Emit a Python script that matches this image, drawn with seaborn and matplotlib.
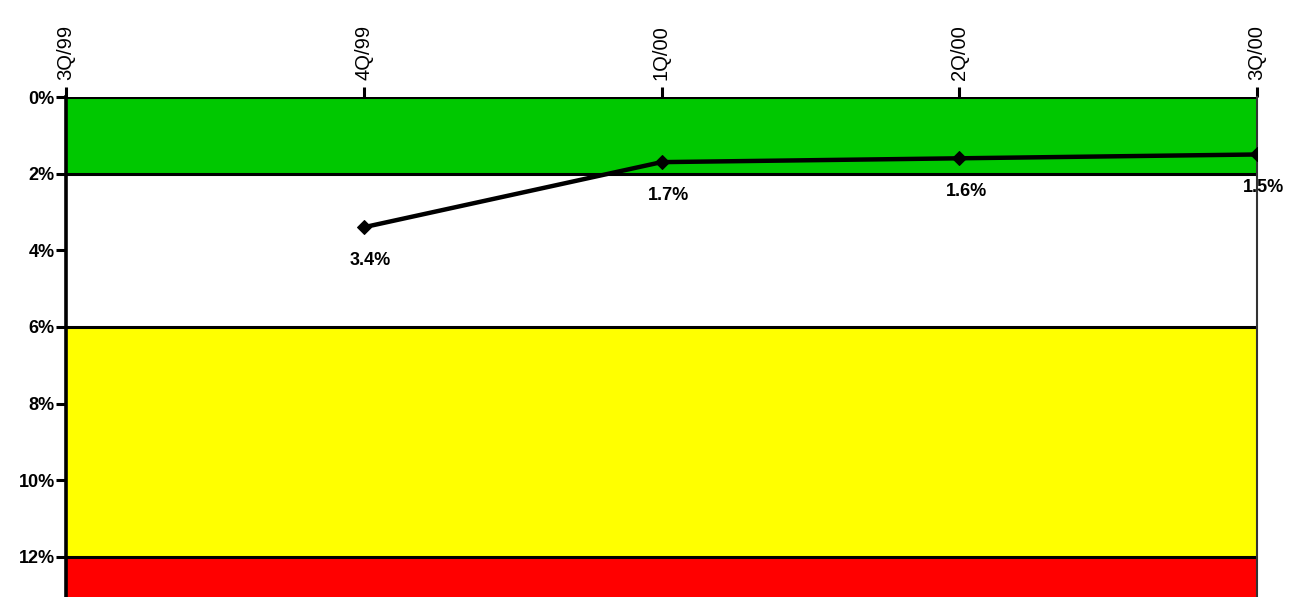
import pandas as pd
import seaborn as sns
import matplotlib.pyplot as plt

# quarters and reported rate
quarters = ['3Q/99', '4Q/99', '1Q/00', '2Q/00', '3Q/00']
rate_q = ['4Q/99', '1Q/00', '2Q/00', '3Q/00']
rate = [3.4, 1.7, 1.6, 1.5]
y_ticks = [0, 2, 4, 6, 8, 10, 12]

# threshold bands (from, to, colour)
bands = [(0, 2, '#00c800'), (6, 12, '#ffff00'), (12, 13.05, '#ff0000')]

sns.set_style('white')
plt.rcParams['font.family'] = ['Liberation Sans', 'DejaVu Sans']
plt.rc('text', color='black')
plt.rc('xtick', color='black', labelcolor='black')
plt.rc('ytick', color='black', labelcolor='black')

df = pd.DataFrame({'q': [quarters.index(q) for q in rate_q], 'rate': rate})

fig = plt.figure(figsize=(12.91, 5.97), dpi=100)
ax = fig.add_axes([66 / 1291, 0, (1257 - 66) / 1291, 1 - 97 / 597])

for lo, hi, c in bands:
    ax.axhspan(lo, hi, facecolor=c, edgecolor='none', zorder=0)
for yl in [0, 2, 6, 12]:
    ax.axhline(yl, color='black', lw=2.2, zorder=1)

sns.lineplot(data=df, x='q', y='rate', ax=ax, color='black', lw=3.2,
             marker='D', markersize=7, markeredgecolor='black', zorder=3)

for xq, v in zip(df['q'], df['rate']):
    ax.annotate(f'{v:.1f}%', (xq, v), xytext=(5, -24), textcoords='offset points',
                ha='center', va='center', fontsize=13, fontweight='bold', color='black')

ax.set_xlim(0, 4)
ax.set_ylim(13.05, 0)
ax.set_xticks(range(len(quarters)))
ax.set_xticklabels(quarters, rotation=90, fontsize=14.5)
ax.set_yticks(y_ticks)
ax.set_yticklabels([f'{t}%' for t in y_ticks], fontsize=13, fontweight='bold')
ax.xaxis.tick_top()
ax.tick_params(axis='x', top=True, bottom=False, length=7, width=2.2, pad=5, direction='out')
ax.tick_params(axis='y', left=True, length=7, width=2.2, pad=1, direction='out')
ax.set_xlabel('')
ax.set_ylabel('')

ax.spines['bottom'].set_visible(False)
ax.spines['left'].set_linewidth(2.6)
ax.spines['left'].set_color('black')
ax.spines['top'].set_visible(False)
ax.spines['right'].set_linewidth(1.5)
ax.spines['right'].set_color('#333333')
ax.spines['left'].set_zorder(5)

fig.savefig('out.png', dpi=100)
